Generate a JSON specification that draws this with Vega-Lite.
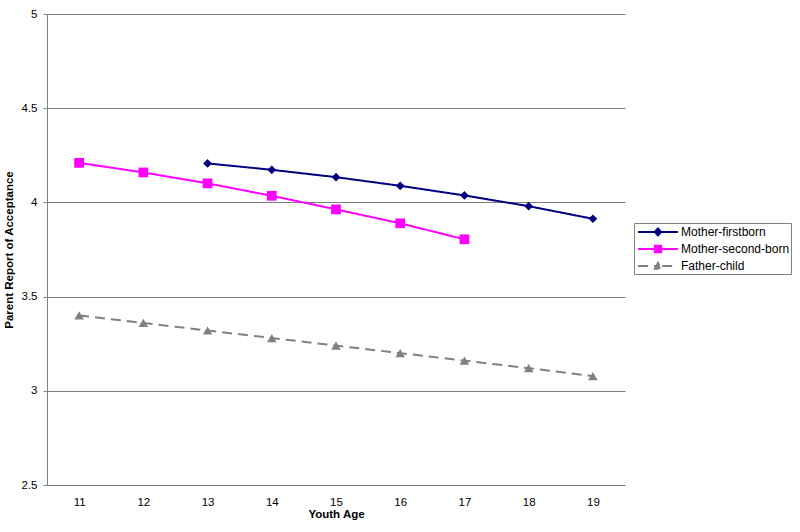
{
  "$schema": "https://vega.github.io/schema/vega-lite/v6.json",
  "width": 578,
  "height": 471,
  "autosize": {"type": "none"},
  "padding": {"left": 47, "top": 14, "right": 175, "bottom": 47},
  "background": "white",
  "config": {"font": "Liberation Sans", "view": {"stroke": null}},
  "data": {
    "values": [
      {"age": 13, "series": "Mother-firstborn", "value": 4.207},
      {"age": 14, "series": "Mother-firstborn", "value": 4.173},
      {"age": 15, "series": "Mother-firstborn", "value": 4.134},
      {"age": 16, "series": "Mother-firstborn", "value": 4.088},
      {"age": 17, "series": "Mother-firstborn", "value": 4.037},
      {"age": 18, "series": "Mother-firstborn", "value": 3.980},
      {"age": 19, "series": "Mother-firstborn", "value": 3.913},
      {"age": 11, "series": "Mother-second-born", "value": 4.210},
      {"age": 12, "series": "Mother-second-born", "value": 4.159},
      {"age": 13, "series": "Mother-second-born", "value": 4.101},
      {"age": 14, "series": "Mother-second-born", "value": 4.035},
      {"age": 15, "series": "Mother-second-born", "value": 3.963},
      {"age": 16, "series": "Mother-second-born", "value": 3.889},
      {"age": 17, "series": "Mother-second-born", "value": 3.804},
      {"age": 11, "series": "Father-child", "value": 3.400},
      {"age": 12, "series": "Father-child", "value": 3.360},
      {"age": 13, "series": "Father-child", "value": 3.320},
      {"age": 14, "series": "Father-child", "value": 3.280},
      {"age": 15, "series": "Father-child", "value": 3.240},
      {"age": 16, "series": "Father-child", "value": 3.200},
      {"age": 17, "series": "Father-child", "value": 3.160},
      {"age": 18, "series": "Father-child", "value": 3.120},
      {"age": 19, "series": "Father-child", "value": 3.078}
    ]
  },
  "encoding": {
    "x": {
      "field": "age",
      "type": "ordinal",
      "scale": {"type": "point", "padding": 0.5},
      "axis": {
        "title": "Youth Age",
        "labelAngle": 0,
        "labelFont": "Liberation Sans",
        "labelFontSize": 11.5,
        "labelColor": "#000000",
        "labelPadding": 11,
        "ticks": false,
        "domainColor": "#808080",
        "domainWidth": 1,
        "grid": false,
        "titleFont": "Liberation Sans",
        "titleFontSize": 11.5,
        "titleFontWeight": "bold",
        "titleColor": "#000000",
        "titlePadding": 1
      }
    },
    "y": {
      "field": "value",
      "type": "quantitative",
      "scale": {"domain": [2.5, 5], "nice": false, "zero": false},
      "axis": {
        "title": "Parent Report of Acceptance",
        "values": [2.5, 3, 3.5, 4, 4.5, 5],
        "format": "~g",
        "labelFont": "Liberation Sans",
        "labelFontSize": 11.5,
        "labelColor": "#000000",
        "labelPadding": 6,
        "tickSize": 4,
        "tickColor": "#808080",
        "domainColor": "#808080",
        "grid": true,
        "gridColor": "#808080",
        "gridWidth": 1,
        "gridOpacity": 1,
        "titleFont": "Liberation Sans",
        "titleFontSize": 11.5,
        "titleFontWeight": "bold",
        "titleColor": "#000000",
        "titlePadding": 7
      }
    },
    "color": {
      "field": "series",
      "type": "nominal",
      "scale": {
        "domain": ["Mother-firstborn", "Mother-second-born", "Father-child"],
        "range": ["#000080", "#FF00FF", "#808080"]
      },
      "legend": {
        "orient": "none",
        "legendX": 587,
        "legendY": 209,
        "title": null,
        "strokeColor": "#808080",
        "fillColor": "white",
        "padding": 1,
        "labelFont": "Liberation Sans",
        "labelFontSize": 12,
        "labelColor": "#000000",
        "symbolSize": 196,
        "symbolOffset": 15,
        "labelOffset": 15,
        "rowPadding": 1,
        "encode": {
          "symbols": {
            "update": {
              "shape": {"signal": "datum.value === 'Mother-firstborn' ? 'M-2.85,0H2.85M-0.45,0L0,-0.5L0.45,0L0,0.5Z' : datum.value === 'Mother-second-born' ? 'M-2.85,0H2.85M-0.45,-0.45H0.45V0.45H-0.45Z' : 'M-2.85,0H-0.35M0.6,0H2.85M-0.45,0.4L0,-0.45L0.45,0.4Z'"},
              "fill": {"signal": "scale('color', datum.value)"},
              "stroke": {"signal": "scale('color', datum.value)"},
              "strokeWidth": {"value": 2},
              "strokeDash": {"value": []},
              "size": {"value": 196},
              "opacity": {"value": 1},
              "fillOpacity": {"value": 1}
            }
          }
        }
      }
    }
  },
  "layer": [
    {
      "mark": {"type": "line"},
      "encoding": {
        "strokeDash": {
          "field": "series",
          "type": "nominal",
          "scale": {
            "domain": ["Mother-firstborn", "Mother-second-born", "Father-child"],
            "range": [[1, 0], [1, 0], [10, 6]]
          },
          "legend": null
        },
        "strokeWidth": {
          "field": "series",
          "type": "nominal",
          "scale": {
            "domain": ["Mother-firstborn", "Mother-second-born", "Father-child"],
            "range": [2, 2, 2.5]
          },
          "legend": null
        }
      }
    },
    {
      "transform": [{"filter": "datum.series === 'Mother-firstborn'"}],
      "mark": {"type": "point", "filled": true, "opacity": 1, "shape": "diamond", "size": 75}
    },
    {
      "transform": [{"filter": "datum.series === 'Mother-second-born'"}],
      "mark": {"type": "point", "filled": true, "opacity": 1, "shape": "square", "size": 95}
    },
    {
      "transform": [{"filter": "datum.series === 'Father-child'"}],
      "mark": {"type": "point", "filled": true, "opacity": 1, "shape": "triangle-up", "size": 90}
    }
  ]
}
